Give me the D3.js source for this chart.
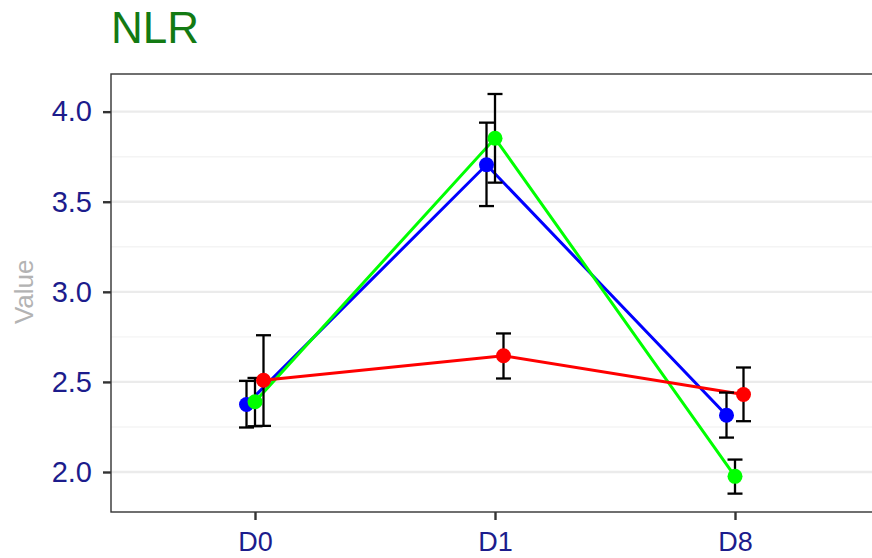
<!DOCTYPE html>
<html lang="en">
<head>
  <meta charset="UTF-8" />
  <title>NLR</title>
  <script src="https://d3js.org/d3.v7.min.js"></script>
  <style>
    body { margin: 0; background: #fff; }
    svg { display: block; font-family: "Liberation Sans", Arial, sans-serif; }
  </style>
</head>
<body>
  <svg id="chart" width="872" height="558"></svg>
  <script>
    const days = ["D0", "D1", "D8"];
    const groups = ["blue", "green", "red"];
    const groupColors = { blue: "#0000ff", green: "#00ff00", red: "#ff0000" };

    // mean, lower, upper per day
    const blueMean = [2.375, 3.705, 2.315];
    const blueLow = [2.247, 3.476, 2.191];
    const blueHigh = [2.506, 3.939, 2.441];

    const greenMean = [2.39, 3.852, 1.976];
    const greenLow = [2.254, 3.606, 1.880];
    const greenHigh = [2.522, 4.098, 2.069];

    const redMean = [2.509, 2.645, 2.43];
    const redLow = [2.256, 2.519, 2.282];
    const redHigh = [2.759, 2.769, 2.58];

    const yTicks = [2.0, 2.5, 3.0, 3.5, 4.0];
    const yMinor = [2.25, 2.75, 3.25, 3.75];

    const series = [
      { key: "blue", mean: blueMean, low: blueLow, high: blueHigh },
      { key: "green", mean: greenMean, low: greenLow, high: greenHigh },
      { key: "red", mean: redMean, low: redLow, high: redHigh }
    ];

    const svg = d3.select("#chart");
    const margin = { left: 111, top: 74, right: -7, bottom: 46 };
    const width = 872 - margin.left - margin.right;
    const height = 558 - margin.top - margin.bottom;

    const x = d3.scalePoint().domain(days).range([0, width]).padding(0.6);
    const dodge = d3.scalePoint().domain(groups).range([-8.5, 8.5]);
    const y = d3.scaleLinear().domain([1.778, 4.209]).range([height, 0]);

    const g = svg.append("g").attr("transform", `translate(${margin.left},${margin.top})`);

    // grid
    g.append("g").selectAll("line").data(yMinor).join("line")
      .attr("x1", 0).attr("x2", width)
      .attr("y1", d => y(d)).attr("y2", d => y(d))
      .attr("stroke", "#f4f4f4").attr("stroke-width", 1.4);
    g.append("g").selectAll("line").data(yTicks).join("line")
      .attr("x1", 0).attr("x2", width)
      .attr("y1", d => y(d)).attr("y2", d => y(d))
      .attr("stroke", "#ebebeb").attr("stroke-width", 2.4);

    const px = (s, i) => x(days[i]) + dodge(s.key);

    // lines
    const line = d3.line().x(d => d.x).y(d => d.y);
    series.forEach(s => {
      g.append("path")
        .datum(days.map((d, i) => ({ x: px(s, i), y: y(s.mean[i]) })))
        .attr("d", line)
        .attr("fill", "none")
        .attr("stroke", groupColors[s.key])
        .attr("stroke-width", 3);
    });

    // error bars
    const cap = 7.5;
    series.forEach(s => {
      const eb = g.append("g").attr("stroke", "#000").attr("stroke-width", 2.3).attr("fill", "none");
      days.forEach((d, i) => {
        const cx = px(s, i);
        eb.append("line").attr("x1", cx).attr("x2", cx).attr("y1", y(s.low[i])).attr("y2", y(s.high[i]));
        eb.append("line").attr("x1", cx - cap).attr("x2", cx + cap).attr("y1", y(s.low[i])).attr("y2", y(s.low[i]));
        eb.append("line").attr("x1", cx - cap).attr("x2", cx + cap).attr("y1", y(s.high[i])).attr("y2", y(s.high[i]));
      });
    });

    // points
    series.forEach(s => {
      g.append("g").selectAll("circle").data(s.mean).join("circle")
        .attr("cx", (d, i) => px(s, i))
        .attr("cy", d => y(d))
        .attr("r", 7.5)
        .attr("fill", groupColors[s.key]);
    });

    // panel border
    g.append("rect").attr("width", width).attr("height", height)
      .attr("fill", "none").attr("stroke", "#333").attr("stroke-width", 1.4);

    // axes
    const yAxis = g.append("g").call(d3.axisLeft(y).tickValues(yTicks).tickFormat(d3.format(".1f")).tickSize(8).tickPadding(11));
    yAxis.select(".domain").remove();
    yAxis.selectAll(".tick line").attr("stroke", "#333").attr("stroke-width", 2.4);
    yAxis.selectAll("text").attr("fill", "#1c1c8c").attr("font-size", 29);

    const xAxis = g.append("g").attr("transform", `translate(0,${height})`)
      .call(d3.axisBottom(x).tickSize(8).tickPadding(12));
    xAxis.select(".domain").remove();
    xAxis.selectAll(".tick line").attr("stroke", "#333").attr("stroke-width", 2.4);
    xAxis.selectAll("text").attr("fill", "#1c1c8c").attr("font-size", 27);

    svg.append("text")
      .attr("transform", `translate(33,${margin.top + y(3.0)}) rotate(-90)`)
      .attr("text-anchor", "middle")
      .attr("fill", "#b3b3b3")
      .attr("font-size", 26)
      .text("Value");

    svg.append("text")
      .attr("x", 111).attr("y", 43)
      .attr("fill", "#137a13")
      .attr("font-size", 44)
      .text("NLR");
  </script>
</body>
</html>
